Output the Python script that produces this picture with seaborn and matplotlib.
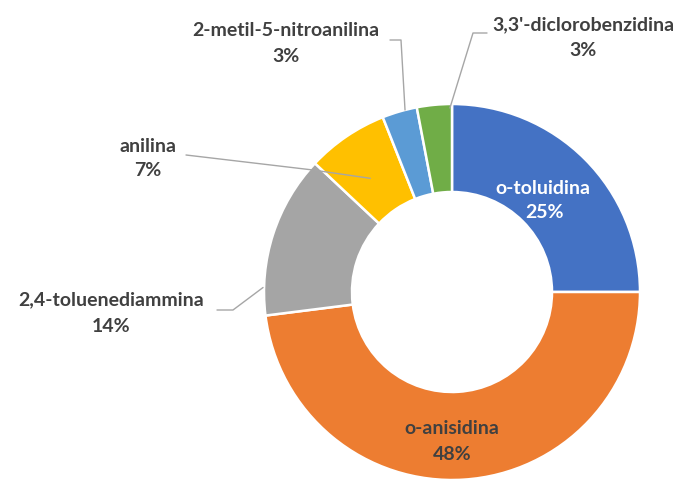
import numpy as np
import matplotlib
matplotlib.use("Agg")
import matplotlib.pyplot as plt
import seaborn as sns

# ---- data ----
categories = ["o-toluidina", "o-anisidina", "2,4-toluenediammina", "anilina",
              "2-metil-5-nitroanilina", "3,3'-diclorobenzidina"]
values = [25, 48, 14, 7, 3, 3]
pct_labels = ["25%", "48%", "14%", "7%", "3%", "3%"]
colors = ["#4472C4", "#ED7D31", "#A5A5A5", "#FFC000", "#5B9BD5", "#70AD47"]

sns.set_theme(style="white")
plt.rcParams["font.family"] = ["Lato", "DejaVu Sans"]

W, H = 681, 482
fig = plt.figure(figsize=(W / 100, H / 100), dpi=100)
ax = fig.add_axes([0, 0, 1, 1])

cx, cy = 452, 292          # centre in image pixels (y down)
R, ring = 188, 88
center = (cx, H - cy)

wedges, _ = ax.pie(values, colors=colors, startangle=90, counterclock=False,
                   center=center, radius=R,
                   wedgeprops=dict(width=ring, edgecolor="white", linewidth=1.8))
ax.set_xlim(0, W)
ax.set_ylim(0, H)
ax.set_aspect("equal")
ax.axis("off")

cum = np.concatenate([[0], np.cumsum(values)]) / float(sum(values))


def P(x, y):
    return (x, H - y)


def wedge_point(i, frac, r):
    # frac measured clockwise from the start of wedge i
    a0 = 90 - 360 * cum[i]
    a1 = 90 - 360 * cum[i + 1]
    a = np.deg2rad(a0 + frac * (a1 - a0))
    return (center[0] + r * np.cos(a), center[1] + r * np.sin(a))


txt = dict(fontsize=14, fontweight="bold", ha="center", va="center")
dark = "#404040"
line_c = "#A6A6A6"

# label positions (image px): name, pct
label_pos = {
    0: ((543, 188), (545, 212), "white"),
    1: ((452, 429), (452, 455), dark),
    2: ((111, 300), (111, 326), dark),
    3: ((148, 146), (148, 171), dark),
    4: ((286, 30), (286, 56), dark),
    5: ((583, 25), (583, 50), dark),
}
for i, (p1, p2, c) in label_pos.items():
    ax.text(*P(*p1), categories[i], color=c, **txt)
    ax.text(*P(*p2), pct_labels[i], color=c, **txt)

# leader lines: start points in image px, end on the wedge
leaders = {
    5: ([(487, 33), (473, 33)], 0.94, 184),
    4: ([(390, 40), (401, 40)], 0.66, 188),
    3: ([(186, 155), (313, 170)], 0.44, 140),
    2: ([(217, 310), (233, 310)], 0.17, 189),
}
for i, (pts, frac, r) in leaders.items():
    xs = [P(*p)[0] for p in pts]
    ys = [P(*p)[1] for p in pts]
    ex, ey = wedge_point(i, frac, r)
    xs.append(ex)
    ys.append(ey)
    ax.plot(xs, ys, color=line_c, lw=1.0, zorder=5)

fig.savefig("out.png", dpi=100, facecolor="white")
